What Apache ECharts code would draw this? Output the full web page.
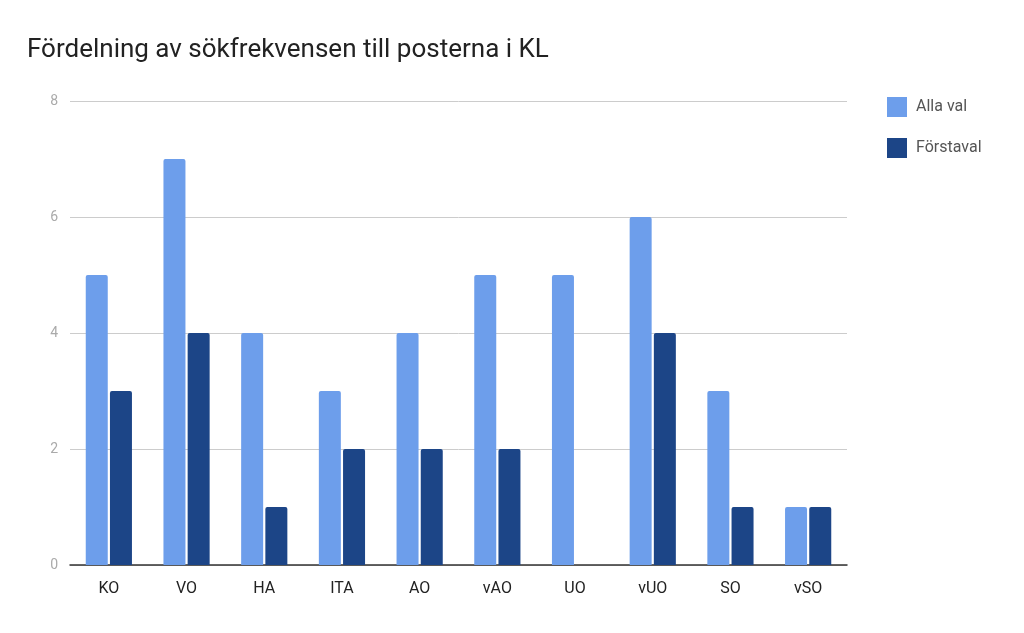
<!DOCTYPE html>
<html>
<head>
<meta charset="utf-8">
<script src="https://cdn.jsdelivr.net/npm/echarts@6/dist/echarts.min.js"></script>
<style>html,body{margin:0;padding:0;background:#fff}#container{width:1024px;height:633px}</style>
</head>
<body>
<div id="container"></div>
<script>
var categories = ['KO', 'VO', 'HA', 'ITA', 'AO', 'vAO', 'UO', 'vUO', 'SO', 'vSO'];
var allaVal = [5, 7, 4, 3, 4, 5, 5, 6, 3, 1];
var forstaval = [3, 4, 1, 2, 2, 2, 0, 4, 1, 1];

var myChart = echarts.init(document.getElementById('container'), null, { renderer: 'canvas' });

var option = {
    backgroundColor: '#ffffff',
    textStyle: { fontFamily: 'Roboto' },
    title: {
        text: 'Fördelning av sökfrekvensen till posterna i KL',
        left: 22,
        top: 32,
        textStyle: { fontFamily: 'Roboto', fontSize: 26, fontWeight: 'normal', color: '#222' }
    },
    legend: {
        orient: 'vertical',
        left: 882,
        top: 92,
        itemWidth: 20,
        itemHeight: 20,
        itemGap: 21,
        icon: 'rect',
        textStyle: { fontFamily: 'Roboto', fontSize: 16, color: '#555', padding: [0, 0, 0, 4] }
    },
    grid: { left: 70, right: 177, top: 101, bottom: 68 },
    xAxis: {
        type: 'category',
        data: categories,
        axisLine: { lineStyle: { color: '#333', width: 1.5 } },
        axisTick: { show: false },
        axisLabel: { color: '#222', fontSize: 16, margin: 16 }
    },
    yAxis: {
        type: 'value',
        min: 0,
        max: 8,
        interval: 2,
        axisLine: { show: false },
        axisTick: { show: false },
        axisLabel: { color: '#aaa', fontSize: 14, margin: 12 },
        splitLine: { lineStyle: { color: '#ccc', width: 1 } }
    },
    series: [
        {
            name: 'Alla val',
            type: 'bar',
            data: allaVal,
            barWidth: 22,
            barGap: '10%',
            itemStyle: { color: '#6d9eeb', borderRadius: [2, 2, 0, 0] }
        },
        {
            name: 'Förstaval',
            type: 'bar',
            data: forstaval,
            barWidth: 22,
            itemStyle: { color: '#1c4587', borderRadius: [2, 2, 0, 0] }
        }
    ]
};

myChart.setOption(option);
window.addEventListener('resize', myChart.resize);
</script>
</body>
</html>
